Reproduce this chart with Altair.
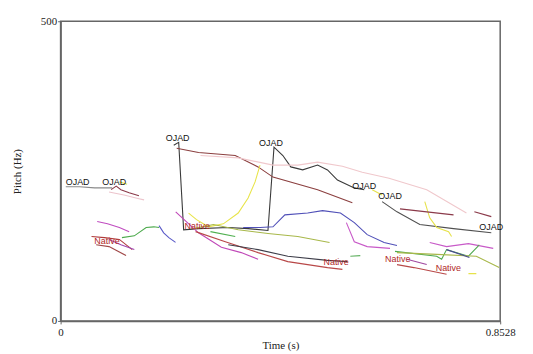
import altair as alt
import pandas as pd

# ---- pitch contours: (time s, pitch Hz) ----
ojad_left = [(0.010, 224), (0.037, 224), (0.066, 222), (0.100, 222)]
red_left_a = [(0.098, 219), (0.108, 225), (0.117, 219), (0.133, 214), (0.152, 209)]
pink_left = [(0.094, 215), (0.123, 210), (0.152, 204), (0.162, 202)]
yellow_left = [(0.114, 232), (0.129, 228)]
magenta_left = [(0.071, 166), (0.091, 162), (0.114, 156), (0.133, 149)]
green_left = [(0.119, 139), (0.143, 142), (0.166, 156), (0.181, 157), (0.191, 156)]
blue_left = [(0.191, 159), (0.200, 147), (0.210, 139), (0.223, 131)]
red_native_a = [(0.060, 141), (0.085, 139), (0.114, 136), (0.139, 119)]
brown_native = [(0.069, 127), (0.094, 124), (0.127, 109)]
purple_native = [(0.094, 136), (0.117, 127), (0.143, 119)]
ojad_big = [(0.2195, 293), (0.2291, 298), (0.2387, 152), (0.2676, 154), (0.3253, 156),
            (0.3638, 154), (0.4023, 151), (0.414, 290), (0.4312, 276), (0.4466, 257),
            (0.4697, 252), (0.4986, 260), (0.5178, 252), (0.5371, 235), (0.5698, 222),
            (0.5891, 219)]
brown_long = [(0.2252, 288), (0.2676, 281), (0.3388, 276), (0.3831, 257), (0.412, 240),
              (0.4986, 219), (0.566, 197)]
pink_long = [(0.2714, 276), (0.3446, 272), (0.412, 260), (0.4601, 260), (0.4986, 265),
             (0.5467, 258), (0.5852, 248), (0.6372, 238), (0.7103, 219), (0.7873, 180)]
yellow_big = [(0.2483, 180), (0.2637, 169), (0.2868, 157), (0.3157, 162), (0.3446, 180),
              (0.3638, 205), (0.3773, 232), (0.3869, 260)]
blue_mid = [(0.3542, 156), (0.3869, 156), (0.412, 157), (0.4351, 177), (0.4793, 180),
            (0.5082, 184), (0.5429, 180), (0.5698, 164), (0.5948, 144), (0.6276, 131),
            (0.6526, 126)]
magenta_right = [(0.5544, 164), (0.5698, 132), (0.5948, 124), (0.6391, 121)]
magenta_mid = [(0.2233, 182), (0.2676, 147), (0.3119, 123), (0.3504, 114), (0.3831, 103)]
red_mid = [(0.2618, 149), (0.3196, 132), (0.3831, 114), (0.4408, 99), (0.5178, 89),
           (0.5467, 86)]
olive_mid = [(0.258, 154), (0.2965, 161), (0.3446, 152), (0.4023, 146), (0.4601, 141),
             (0.5217, 131)]
dark_low = [(0.3253, 127), (0.3831, 119), (0.4408, 108), (0.5178, 101), (0.5563, 99)]
green_mid = [(0.2907, 149), (0.3388, 141)]
green_small = [(0.5621, 108), (0.5814, 109)]
ojad_right = [(0.6237, 199), (0.6526, 182), (0.6969, 161), (0.7623, 154), (0.8355, 147)]
yellow_small = [(0.6045, 219), (0.6237, 210)]
yellow_vert = [(0.7065, 199), (0.7161, 172), (0.7296, 156), (0.7527, 149), (0.7585, 141)]
red_dash_a = [(0.6584, 187), (0.7623, 177)]
red_dash_b = [(0.8027, 182), (0.8355, 174)]
magenta_r2 = [(0.7161, 131), (0.7488, 124), (0.7912, 129), (0.8393, 121)]
green_right = [(0.6487, 116), (0.7296, 108), (0.7392, 103), (0.7488, 119), (0.7912, 108),
               (0.8123, 127)]
olive_right = [(0.6526, 114), (0.7296, 111), (0.8065, 108), (0.8509, 89)]
blue_right = [(0.7488, 119), (0.7931, 106)]
red_right = [(0.6526, 94), (0.6853, 89), (0.7488, 78)]
magenta_dark = [(0.6718, 103), (0.7103, 94)]
yellow_bottom = [(0.7912, 79), (0.8065, 79)]

contour_names = ["ojad_left", "red_left_a", "pink_left", "yellow_left", "magenta_left",
                 "green_left", "blue_left", "red_native_a", "brown_native", "purple_native",
                 "ojad_big", "brown_long", "pink_long", "yellow_big", "blue_mid",
                 "magenta_right", "magenta_mid", "red_mid", "olive_mid", "dark_low",
                 "green_mid", "green_small", "ojad_right", "yellow_small", "yellow_vert",
                 "red_dash_a", "red_dash_b", "magenta_r2", "green_right", "olive_right",
                 "blue_right", "red_right", "magenta_dark", "yellow_bottom"]
contour_colors = ["#8a8a8a", "#8b3a4a", "#ecc4cc", "#e6e24a", "#c04cc0",
                  "#4caa4c", "#5a5ac8", "#b03a3a", "#a04848", "#a048b0",
                  "#3a3a3a", "#8b3f3f", "#f0c8cc", "#e8e44a", "#5050b8",
                  "#c85ac8", "#c048b8", "#b84848", "#a8b84a", "#3e3e4a",
                  "#50b050", "#60b060", "#505050", "#e6e24a", "#e6e24a",
                  "#8b3a4a", "#8b3a4a", "#c85ac8", "#50aa50", "#a8b84a",
                  "#4a4a90", "#b84848", "#a048a0", "#e6e24a"]

# ---- labels ----
ojad_t = [0.010, 0.081, 0.204, 0.385, 0.566, 0.616, 0.8123]
ojad_hz = [232, 232, 306, 296, 225, 209, 157]
native_t = [0.0655, 0.2406, 0.510, 0.6295, 0.7277]
native_hz = [134, 159, 99, 104, 89]

x_ticks = [0, 0.8528]
y_ticks = [0, 500]

g = globals()
rows = []
for name, col in zip(contour_names, contour_colors):
    for i, (t, hz) in enumerate(g[name]):
        rows.append({"series": name, "order": i, "t": t, "hz": hz, "color": col})
df = pd.DataFrame(rows)

labels = pd.DataFrame(
    [{"t": t, "hz": h, "text": "OJAD", "color": "#111111"} for t, h in zip(ojad_t, ojad_hz)]
    + [{"t": t, "hz": h, "text": "Native", "color": "#b02828"} for t, h in zip(native_t, native_hz)]
)

xs = alt.Scale(domain=[0, 0.8528], nice=False, zero=False)
ys = alt.Scale(domain=[0, 500], nice=False)

lines = alt.Chart(df).mark_line(strokeWidth=1.1, clip=True).encode(
    x=alt.X("t:Q", scale=xs, title="Time (s)",
            axis=alt.Axis(values=x_ticks, format=".4~f", grid=False,
                          labelPadding=3, titlePadding=2)),
    y=alt.Y("hz:Q", scale=ys, title="Pitch (Hz)",
            axis=alt.Axis(values=y_ticks, grid=False, titlePadding=18)),
    color=alt.Color("color:N", scale=None),
    detail="series:N",
    order="order:Q",
)

text = alt.Chart(labels).mark_text(align="left", baseline="middle", fontSize=9,
                                   font="Liberation Sans").encode(
    x=alt.X("t:Q", scale=xs),
    y=alt.Y("hz:Q", scale=ys),
    text="text:N",
    color=alt.Color("color:N", scale=None),
)

chart = (lines + text).properties(
    width=443, height=302,
    padding={"left": 53, "top": 12, "right": 25, "bottom": 36},
    autosize=alt.AutoSizeParams(type="none"),
    background="white",
).configure_view(
    stroke="#666666", strokeWidth=1.5
).configure_axis(
    labelFont="Liberation Serif", titleFont="Liberation Serif",
    labelFontSize=11, titleFontSize=11, labelColor="#222", titleColor="#222",
    titleFontWeight="normal", domainColor="#666666", tickColor="#666666",
    tickSize=3, labelPadding=1, domainWidth=1.5, labelFlush=False,
)

chart.save("out.html", embed_options={"renderer": "svg", "actions": False})
